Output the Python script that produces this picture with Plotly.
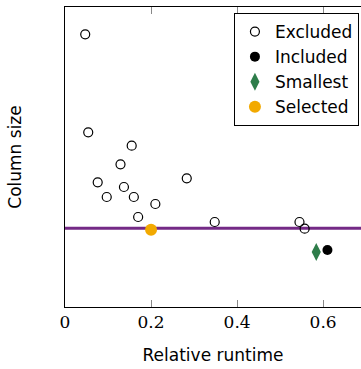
import plotly.graph_objects as go

# Data (relative runtime vs column size, arbitrary units)
excluded_x = [0.047, 0.054, 0.155, 0.129, 0.076, 0.137, 0.097, 0.160, 0.210, 0.283, 0.170, 0.348, 0.545, 0.557]
excluded_y = [272.7, 174.7, 161.3, 142.7, 124.7, 120.0, 110.0, 110.0, 103.0, 128.7, 90.0, 85.0, 85.0, 78.3]
included_x = [0.610]
included_y = [57.0]
smallest_x = [0.584]
smallest_y = [55.0]
selected_x = [0.200]
selected_y = [77.3]
threshold_y = 78.7

x_ticks = [0, 0.2, 0.4, 0.6]
x_ticklabels = ["0", "0.2", "0.4", "0.6"]

fig = go.Figure()
fig.add_trace(go.Scatter(x=excluded_x, y=excluded_y, mode="markers", name="Excluded",
                         marker=dict(symbol="circle-open", size=9, color="black", line=dict(width=1.2))))
fig.add_trace(go.Scatter(x=included_x, y=included_y, mode="markers", name="Included",
                         marker=dict(symbol="circle", size=10, color="black")))
fig.add_trace(go.Scatter(x=smallest_x, y=smallest_y, mode="markers", name="Smallest",
                         marker=dict(symbol="diamond-tall", size=13, color="#2e7d4a")))
fig.add_trace(go.Scatter(x=selected_x, y=selected_y, mode="markers", name="Selected",
                         marker=dict(symbol="circle", size=12, color="#f2a900")))

fig.add_hline(y=threshold_y, line=dict(color="#742a86", width=3), layer="below")

fig.update_layout(
    width=361, height=369,
    margin=dict(l=65, r=0, t=7, b=62),
    plot_bgcolor="white", paper_bgcolor="white",
    font=dict(family="DejaVu Sans", size=17, color="black"),
    legend=dict(x=0.993, y=0.98, xanchor="right", yanchor="top",
                bordercolor="black", borderwidth=1, bgcolor="white",
                font=dict(family="DejaVu Sans", size=17), tracegroupgap=0),
    showlegend=True,
)
fig.update_xaxes(range=[0, 0.688], tickvals=x_ticks, ticktext=x_ticklabels,
                 showgrid=False, zeroline=False, showline=True, linecolor="black", linewidth=1,
                 mirror="allticks", ticks="inside", ticklen=7, tickcolor="#888888",
                 tickfont=dict(family="DejaVu Serif", size=17),
                 title=dict(text="Relative runtime", standoff=17, font=dict(family="DejaVu Sans", size=17)))
fig.update_yaxes(range=[0, 300], showticklabels=False, ticks="",
                 showgrid=False, zeroline=False, showline=True, linecolor="black", linewidth=1,
                 title=dict(text="Column size", standoff=38, font=dict(family="DejaVu Sans", size=17)))

fig.write_html("out.html")
